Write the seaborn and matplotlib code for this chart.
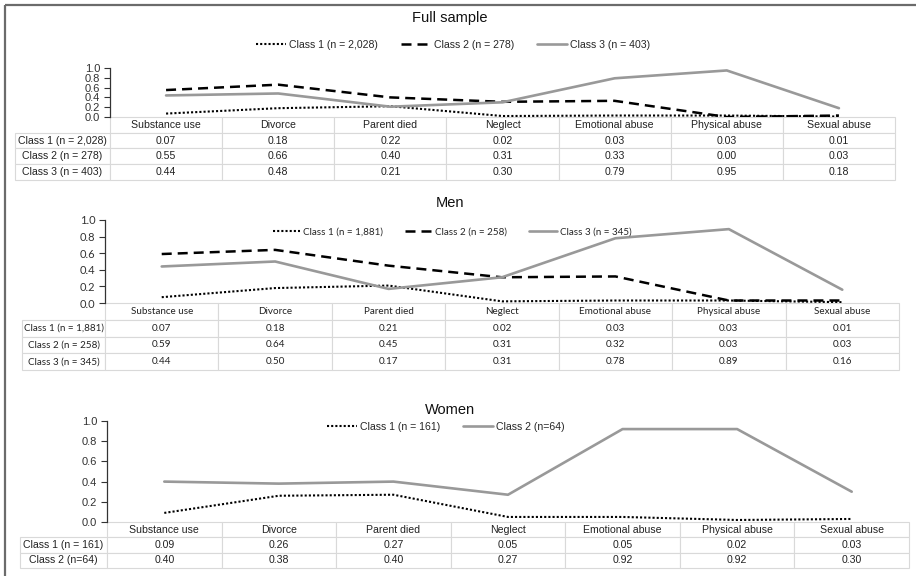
import matplotlib
matplotlib.use("Agg")
import matplotlib.pyplot as plt
import seaborn as sns
import pandas as pd
from matplotlib.lines import Line2D

categories = ["Substance use", "Divorce", "Parent died", "Neglect",
              "Emotional abuse", "Physical abuse", "Sexual abuse"]

full_labels = ["Class 1 (n = 2,028)", "Class 2 (n = 278)", "Class 3 (n = 403)"]
full_c1 = [0.07, 0.18, 0.22, 0.02, 0.03, 0.03, 0.01]
full_c2 = [0.55, 0.66, 0.40, 0.31, 0.33, 0.00, 0.03]
full_c3 = [0.44, 0.48, 0.21, 0.30, 0.79, 0.95, 0.18]

men_labels = ["Class 1 (n = 1,881)", "Class 2 (n = 258)", "Class 3 (n = 345)"]
men_c1 = [0.07, 0.18, 0.21, 0.02, 0.03, 0.03, 0.01]
men_c2 = [0.59, 0.64, 0.45, 0.31, 0.32, 0.03, 0.03]
men_c3 = [0.44, 0.50, 0.17, 0.31, 0.78, 0.89, 0.16]

women_labels = ["Class 1 (n = 161)", "Class 2 (n=64)"]
women_c1 = [0.09, 0.26, 0.27, 0.05, 0.05, 0.02, 0.03]
women_c2 = [0.40, 0.38, 0.40, 0.27, 0.92, 0.92, 0.30]

yticks = [0.0, 0.2, 0.4, 0.6, 0.8, 1.0]

sns.set_style("white")
plt.rcParams["font.family"] = ["Liberation Sans", "DejaVu Sans"]

W, H = 916, 576
fig = plt.figure(figsize=(W / 100, H / 100), dpi=100)

DOT = dict(color="black", linestyle=(0, (1, 1)), linewidth=1.5)
DASH = dict(color="black", linestyle=(0, (4, 2.4)), linewidth=1.8)
SOLID = dict(color="#999999", linestyle="-", linewidth=1.9)


def panel(title, title_y, labels, series, styles, left, right, top, bottom,
          tab_left, tab_bottom, legend_xy, font="Liberation Sans", fsize=7.6):
    ax = fig.add_axes([left / W, 1 - bottom / H, (right - left) / W, (bottom - top) / H])
    df = pd.DataFrame({"cat": categories})
    for lab, vals, st in zip(labels, series, styles):
        df[lab] = vals
        sns.lineplot(data=df, x="cat", y=lab, ax=ax, label=lab, sort=False, **st)

    ax.set_xlim(-0.5, 6.5)
    ax.set_ylim(0, 1)
    ax.set_yticks(yticks)
    ax.set_yticklabels([f"{t:.1f}" for t in yticks], fontfamily=font)
    ax.set_xticks([])
    ax.set_xlabel("")
    ax.set_ylabel("")
    for s in ["top", "right", "bottom"]:
        ax.spines[s].set_visible(False)
    ax.spines["left"].set_color("#333333")
    ax.spines["left"].set_linewidth(0.9)
    ax.tick_params(axis="y", direction="out", length=4, width=0.8, pad=3,
                   labelsize=8, colors="#333333", left=True)
    ax.patch.set_alpha(0)

    # legend
    h, l = ax.get_legend_handles_labels()
    ax.legend(h, l, ncol=len(l), loc="center",
              bbox_to_anchor=(legend_xy[0] / W, 1 - legend_xy[1] / H),
              bbox_transform=fig.transFigure, frameon=False,
              prop={"family": font, "size": fsize}, handlelength=2.8,
              handletextpad=0.3, columnspacing=2.2)

    # data table under the plot
    pw = right - left
    ph = bottom - top
    cell_text = [[lab] + [f"{v:.2f}" for v in vals] for lab, vals in zip(labels, series)]
    col_w = [left - tab_left] + [pw / 7] * 7
    tab = ax.table(cellText=cell_text, colLabels=[""] + categories,
                   colWidths=col_w, cellLoc="center",
                   bbox=[(tab_left - left) / pw, -(tab_bottom - bottom) / ph,
                         (right - tab_left) / pw, (tab_bottom - bottom) / ph])
    tab.auto_set_font_size(False)
    tab.set_fontsize(fsize)
    for (r, c), cell in tab.get_celld().items():
        cell.set_edgecolor("#d9d9d9")
        cell.set_linewidth(0.8)
        cell.get_text().set_fontfamily(font)
        cell.get_text().set_color("#222222")
        if r == 0 and c == 0:
            cell.visible_edges = ""
        if c == 0:
            cell._loc = "left"
            cell.PAD = 0.03

    fig.text(450 / W, 1 - title_y / H, title, ha="center", va="center",
             fontsize=10.5, color="#111111")
    return ax


panel("Full sample", 18, full_labels, [full_c1, full_c2, full_c3], [DOT, DASH, SOLID],
      110, 895, 68, 117, 15, 180, (453, 45))
panel("Men", 203, men_labels, [men_c1, men_c2, men_c3], [DOT, DASH, SOLID],
      105, 899, 220, 303, 22, 370, (452, 232), font="Lato", fsize=7.1)
panel("Women", 410, women_labels, [women_c1, women_c2], [DOT, SOLID],
      107, 909, 421, 522, 20, 568, (446, 427))

# outer frame (only top and left edges are visible in the original)
fig.add_artist(Line2D([5 / W, 1], [1 - 5 / H, 1 - 5 / H], transform=fig.transFigure,
                      color="#6b6b6b", linewidth=1.6, solid_capstyle="butt"))
fig.add_artist(Line2D([5 / W, 5 / W], [0, 1 - 5 / H], transform=fig.transFigure,
                      color="#6b6b6b", linewidth=1.6, solid_capstyle="butt"))

fig.savefig("out.png", dpi=100, facecolor="white")
